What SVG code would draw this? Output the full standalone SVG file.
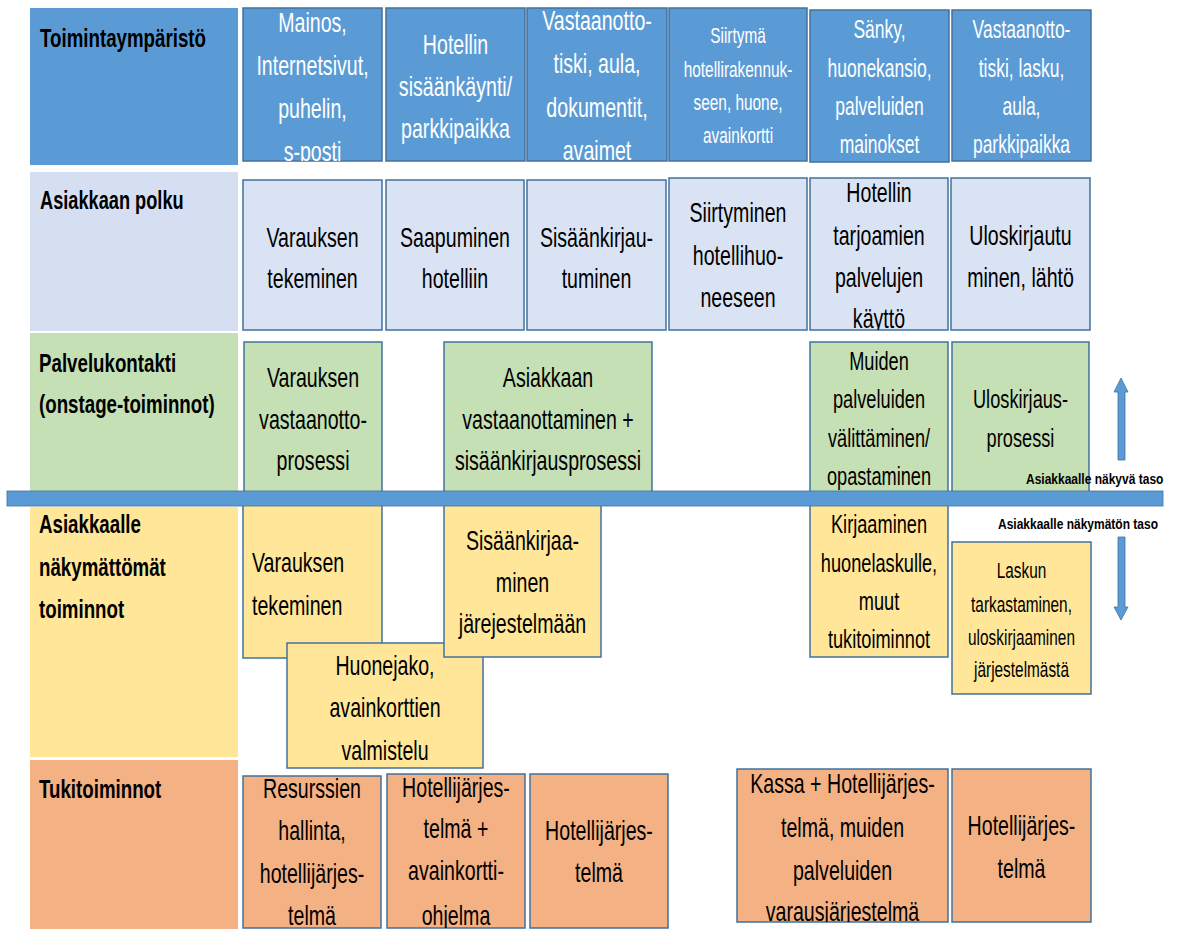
<svg xmlns="http://www.w3.org/2000/svg" width="1182" height="929" viewBox="0 0 1182 929">
<style>
.t{font-family:"Liberation Sans",Arial,sans-serif;font-size:28px;text-anchor:middle;fill:#000}
.w{fill:#fff}
.s25{font-size:25px}.s26{font-size:26px}.s22{font-size:22px}
.h{font-family:"Liberation Sans",Arial,sans-serif;font-weight:bold;font-size:26px;fill:#000}
.lb{font-family:"Liberation Sans",Arial,sans-serif;font-weight:bold;font-size:15px;fill:#000}
.nb{fill:#5b9bd5;stroke:#41719c;stroke-width:1.5}
.nl{fill:#dae3f3;stroke:#41719c;stroke-width:1.5}
.ng{fill:#c5e0b4;stroke:#41719c;stroke-width:1.5}
.ny{fill:#ffe699;stroke:#41719c;stroke-width:1.5}
.no{fill:#f4b183;stroke:#41719c;stroke-width:1.5}
.ar{fill:#5b9bd5;stroke:#41719c;stroke-width:0.8}
</style>
<defs>
<clipPath id="cE1"><rect x="243" y="8" width="139" height="153"/></clipPath>
<clipPath id="cE3"><rect x="527" y="8" width="140" height="153"/></clipPath>
<clipPath id="cP5"><rect x="810" y="178" width="138" height="152"/></clipPath>
<clipPath id="cO2"><rect x="387" y="774" width="138" height="154"/></clipPath>
<clipPath id="cO4"><rect x="737" y="769" width="211" height="153"/></clipPath>
</defs>
<rect width="1182" height="929" fill="#fff"/>

<g id="lanes">
<g id="lane-env"><rect x="30" y="8" width="208" height="157" fill="#5b9bd5"/>
<text class="h w" transform="translate(40 0) scale(0.72 1)"><tspan x="0" y="47">Toimintaympäristö</tspan></text></g>
<g id="lane-path"><rect x="30" y="172" width="208" height="159" fill="#d5dff1"/>
<text class="h" transform="translate(40 0) scale(0.70 1)"><tspan x="0" y="209">Asiakkaan polku</tspan></text></g>
<g id="lane-contact"><rect x="30" y="333" width="208" height="160" fill="#c5e0b4"/>
<text class="h" transform="translate(39 0) scale(0.72 1)"><tspan x="0" y="372">Palvelukontakti</tspan><tspan x="0" y="413">(onstage-toiminnot)</tspan></text></g>
<g id="lane-backstage"><rect x="30" y="507" width="208" height="250" fill="#ffe699"/>
<text class="h" transform="translate(39 0) scale(0.72 1)"><tspan x="0" y="533">Asiakkaalle</tspan><tspan x="0" y="576">näkymättömät</tspan><tspan x="0" y="618">toiminnot</tspan></text></g>
<g id="lane-support"><rect x="30" y="760" width="208" height="169" fill="#f4b183"/>
<text class="h" transform="translate(39 0) scale(0.72 1)"><tspan x="0" y="798">Tukitoiminnot</tspan></text></g>
</g>

<g id="E1"><rect class="nb" x="243" y="8" width="139" height="153"/><g clip-path="url(#cE1)"><text class="t w" transform="translate(312.5 0) scale(0.7 1)"><tspan x="0" y="32">Mainos,</tspan><tspan x="0" y="75">Internetsivut,</tspan><tspan x="0" y="118">puhelin,</tspan><tspan x="0" y="161">s-posti</tspan></text></g></g>
<g id="E2"><rect class="nb" x="386" y="8" width="139" height="153"/><text class="t w" transform="translate(455.5 0) scale(0.7 1)"><tspan x="0" y="54">Hotellin</tspan><tspan x="0" y="96">sisäänkäynti/</tspan><tspan x="0" y="138">parkkipaikka</tspan></text></g>
<g id="E3"><rect class="nb" x="527" y="8" width="140" height="153"/><g clip-path="url(#cE3)"><text class="t w" transform="translate(597 0) scale(0.7 1)"><tspan x="0" y="30">Vastaanotto-</tspan><tspan x="0" y="73">tiski, aula,</tspan><tspan x="0" y="117">dokumentit,</tspan><tspan x="0" y="160">avaimet</tspan></text></g></g>
<g id="E4"><rect class="nb" x="669" y="8" width="138" height="153"/><text class="t w s22" transform="translate(738 0) scale(0.7 1)"><tspan x="0" y="43">Siirtymä</tspan><tspan x="0" y="77">hotellirakennuk-</tspan><tspan x="0" y="110">seen, huone,</tspan><tspan x="0" y="143">avainkortti</tspan></text></g>
<g id="E5"><rect class="nb" x="810" y="10" width="139" height="152"/><text class="t w s25" transform="translate(879.5 0) scale(0.7 1)"><tspan x="0" y="38">Sänky,</tspan><tspan x="0" y="77">huonekansio,</tspan><tspan x="0" y="115">palveluiden</tspan><tspan x="0" y="153">mainokset</tspan></text></g>
<g id="E6"><rect class="nb" x="952" y="10" width="139" height="151"/><text class="t w s25" transform="translate(1021.5 0) scale(0.7 1)"><tspan x="0" y="38">Vastaanotto-</tspan><tspan x="0" y="77">tiski, lasku,</tspan><tspan x="0" y="115">aula,</tspan><tspan x="0" y="153">parkkipaikka</tspan></text></g>

<g id="P1"><rect class="nl" x="243" y="180" width="139" height="150"/><text class="t" transform="translate(312.5 0) scale(0.7 1)"><tspan x="0" y="247">Varauksen</tspan><tspan x="0" y="288">tekeminen</tspan></text></g>
<g id="P2"><rect class="nl" x="386" y="180" width="138" height="150"/><text class="t" transform="translate(455 0) scale(0.7 1)"><tspan x="0" y="247">Saapuminen</tspan><tspan x="0" y="288">hotelliin</tspan></text></g>
<g id="P3"><rect class="nl" x="527" y="180" width="139" height="150"/><text class="t" transform="translate(596.5 0) scale(0.7 1)"><tspan x="0" y="247">Sisäänkirjau-</tspan><tspan x="0" y="288">tuminen</tspan></text></g>
<g id="P4"><rect class="nl" x="669" y="178" width="138" height="152"/><text class="t" transform="translate(738 0) scale(0.7 1)"><tspan x="0" y="222">Siirtyminen</tspan><tspan x="0" y="265">hotellihuo-</tspan><tspan x="0" y="307">neeseen</tspan></text></g>
<g id="P5"><rect class="nl" x="810" y="178" width="138" height="152"/><g clip-path="url(#cP5)"><text class="t" transform="translate(879 0) scale(0.7 1)"><tspan x="0" y="202">Hotellin</tspan><tspan x="0" y="245">tarjoamien</tspan><tspan x="0" y="287">palvelujen</tspan><tspan x="0" y="328">käyttö</tspan></text></g></g>
<g id="P6"><rect class="nl" x="951" y="178" width="139" height="152"/><text class="t" transform="translate(1020.5 0) scale(0.7 1)"><tspan x="0" y="245">Uloskirjautu</tspan><tspan x="0" y="287">minen, lähtö</tspan></text></g>

<g id="G1"><rect class="ng" x="244" y="342" width="138" height="150"/><text class="t" transform="translate(313 0) scale(0.7 1)"><tspan x="0" y="387">Varauksen</tspan><tspan x="0" y="429">vastaanotto-</tspan><tspan x="0" y="470">prosessi</tspan></text></g>
<g id="G2"><rect class="ng" x="444" y="342" width="208" height="150"/><text class="t" transform="translate(548 0) scale(0.7 1)"><tspan x="0" y="387">Asiakkaan</tspan><tspan x="0" y="429">vastaanottaminen +</tspan><tspan x="0" y="470">sisäänkirjausprosessi</tspan></text></g>
<g id="G3"><rect class="ng" x="810" y="342" width="138" height="150"/><text class="t s26" transform="translate(879 0) scale(0.7 1)"><tspan x="0" y="370">Muiden</tspan><tspan x="0" y="408">palveluiden</tspan><tspan x="0" y="447">välittäminen/</tspan><tspan x="0" y="485">opastaminen</tspan></text></g>
<g id="G4"><rect class="ng" x="952" y="342" width="137" height="150"/><text class="t s26" transform="translate(1020.5 0) scale(0.7 1)"><tspan x="0" y="408">Uloskirjaus-</tspan><tspan x="0" y="447">prosessi</tspan></text></g>

<g id="Y1"><rect class="ny" x="243" y="505" width="139" height="153"/><text class="t" style="text-anchor:start" transform="translate(252 0) scale(0.7 1)"><tspan x="0" y="572">Varauksen</tspan><tspan x="0" y="615">tekeminen</tspan></text></g>
<g id="Y2"><rect class="ny" x="287" y="643" width="196" height="125"/><text class="t" transform="translate(385 0) scale(0.7 1)"><tspan x="0" y="675">Huonejako,</tspan><tspan x="0" y="717">avainkorttien</tspan><tspan x="0" y="760">valmistelu</tspan></text></g>
<g id="Y3"><rect class="ny" x="444" y="505" width="157" height="152"/><text class="t" transform="translate(522.5 0) scale(0.7 1)"><tspan x="0" y="550">Sisäänkirjaa-</tspan><tspan x="0" y="592">minen</tspan><tspan x="0" y="633">järejestelmään</tspan></text></g>
<g id="Y4"><rect class="ny" x="810" y="505" width="138" height="152"/><text class="t s26" transform="translate(879 0) scale(0.7 1)"><tspan x="0" y="533">Kirjaaminen</tspan><tspan x="0" y="572">huonelaskulle,</tspan><tspan x="0" y="610">muut</tspan><tspan x="0" y="648">tukitoiminnot</tspan></text></g>
<g id="Y5"><rect class="ny" x="952" y="542" width="139" height="152"/><text class="t s22" transform="translate(1021.5 0) scale(0.7 1)"><tspan x="0" y="578">Laskun</tspan><tspan x="0" y="612">tarkastaminen,</tspan><tspan x="0" y="645">uloskirjaaminen</tspan><tspan x="0" y="677">järjestelmästä</tspan></text></g>

<g id="O1"><rect class="no" x="243" y="776" width="138" height="152"/><text class="t" transform="translate(312 0) scale(0.7 1)"><tspan x="0" y="798">Resurssien</tspan><tspan x="0" y="840">hallinta,</tspan><tspan x="0" y="883">hotellijärjes-</tspan><tspan x="0" y="925">telmä</tspan></text></g>
<g id="O2"><rect class="no" x="387" y="774" width="138" height="154"/><g clip-path="url(#cO2)"><text class="t" transform="translate(456 0) scale(0.7 1)"><tspan x="0" y="797">Hotellijärjes-</tspan><tspan x="0" y="838">telmä +</tspan><tspan x="0" y="880">avainkortti-</tspan><tspan x="0" y="925">ohjelma</tspan></text></g></g>
<g id="O3"><rect class="no" x="530" y="774" width="138" height="154"/><text class="t" transform="translate(599 0) scale(0.7 1)"><tspan x="0" y="840">Hotellijärjes-</tspan><tspan x="0" y="882">telmä</tspan></text></g>
<g id="O4"><rect class="no" x="737" y="769" width="211" height="153"/><g clip-path="url(#cO4)"><text class="t" transform="translate(842.5 0) scale(0.7 1)"><tspan x="0" y="793">Kassa + Hotellijärjes-</tspan><tspan x="0" y="837">telmä, muiden</tspan><tspan x="0" y="880">palveluiden</tspan><tspan x="0" y="921">varausjärjestelmä</tspan></text></g></g>
<g id="O5"><rect class="no" x="952" y="769" width="139" height="153"/><text class="t" transform="translate(1021.5 0) scale(0.7 1)"><tspan x="0" y="835">Hotellijärjes-</tspan><tspan x="0" y="878">telmä</tspan></text></g>

<g id="visibility-line">
<rect x="7" y="491" width="1156" height="15" fill="#5b9bd5" stroke="#41719c" stroke-width="0.8"/>
<text class="lb" transform="translate(1026 0) scale(0.8 1)"><tspan x="0" y="484">Asiakkaalle näkyvä taso</tspan></text>
<text class="lb" transform="translate(998 0) scale(0.8 1)"><tspan x="0" y="529">Asiakkaalle näkymätön taso</tspan></text>
</g>

<g id="connectors">
<path class="ar" d="M1118 460 V392 H1114 L1121 378 L1128 392 H1125 V460 Z"/>
<path class="ar" d="M1118 537 V607 H1114 L1121 620 L1128 607 H1125 V537 Z"/>
</g>
</svg>
